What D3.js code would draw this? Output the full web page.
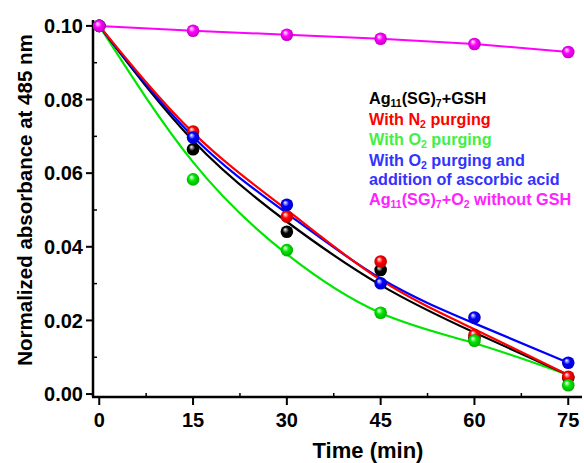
<!DOCTYPE html>
<html><head><meta charset="utf-8">
<script src="https://cdn.jsdelivr.net/npm/d3@7"></script>
<style>body{margin:0;background:#fff}svg{display:block;font-family:"Liberation Sans",Arial,sans-serif}</style>
</head><body><svg id="c" width="584" height="463"></svg>
<script>
const times = [0, 15, 30, 45, 60, 75];
const xTicks = [0, 15, 30, 45, 60, 75];
const yTicks = [0.00, 0.02, 0.04, 0.06, 0.08, 0.10];
// measured points
const blackPts = [0.100, 0.0665, 0.0441, 0.0337, 0.0153, 0.0044];
const redPts   = [0.100, 0.0713, 0.0482, 0.0360, 0.0160, 0.0047];
const greenPts = [0.100, 0.0583, 0.0391, 0.0221, 0.0145, 0.0024];
const bluePts  = [0.100, 0.0697, 0.0514, 0.0301, 0.0208, 0.0085];
const pinkPts  = [0.100, 0.0987, 0.0976, 0.0965, 0.0951, 0.0929];
// fitted curves
const blackFit = [0.100, 0.0688, 0.0468, 0.0296, 0.0167, 0.0052];
const redFit   = [0.100, 0.0710, 0.0500, 0.0310, 0.0176, 0.0052];
const blueFit  = [0.100, 0.0699, 0.0491, 0.0314, 0.0192, 0.0085];
const greenFit = [0.100, 0.0630, 0.0380, 0.0220, 0.0138, 0.0052];

const svg = d3.select("#c");
const x = d3.scaleLinear().domain([-1, 77.2]).range([93, 582]);
const y = d3.scaleLinear().domain([-0.0008, 0.1016]).range([397, 20]);

const colors = {black:"#000000", red:"#ff0000", green:"#00e600", blue:"#0000ff", pink:"#ff00ff"};
const defs = svg.append("defs");
Object.entries(colors).forEach(([k,c])=>{
  const g = defs.append("radialGradient").attr("id","g_"+k).attr("cx","50%").attr("cy","50%").attr("r","55%").attr("fx","35%").attr("fy","30%");
  g.append("stop").attr("offset","0%").attr("stop-color","#ffffff");
  g.append("stop").attr("offset","45%").attr("stop-color",c);
  g.append("stop").attr("offset","100%").attr("stop-color",d3.color(c).darker(0.9).formatHex());
});

// axes
const axG = svg.append("g");
axG.append("line").attr("x1",93).attr("x2",93).attr("y1",y.range()[1]).attr("y2",397).attr("stroke","#000").attr("stroke-width",2.5);
axG.append("line").attr("x1",92).attr("x2",582).attr("y1",397).attr("y2",397).attr("stroke","#000").attr("stroke-width",2.5);
yTicks.forEach(v=>{
  axG.append("line").attr("x1",86).attr("x2",93).attr("y1",y(v)).attr("y2",y(v)).attr("stroke","#000").attr("stroke-width",2);
  axG.append("text").attr("x",83).attr("y",y(v)).attr("dy","0.36em").attr("text-anchor","end")
    .attr("font-size",20).attr("font-weight","bold").text(d3.format(".2f")(v));
});
d3.range(0.01, 0.101, 0.02).forEach(v=>{
  axG.append("line").attr("x1",93).attr("x2",97).attr("y1",y(v)).attr("y2",y(v)).attr("stroke","#000").attr("stroke-width",1.5);
});
xTicks.forEach(v=>{
  axG.append("line").attr("x1",x(v)).attr("x2",x(v)).attr("y1",397).attr("y2",405).attr("stroke","#000").attr("stroke-width",2);
  axG.append("text").attr("x",x(v)).attr("y",427).attr("text-anchor","middle")
    .attr("font-size",20).attr("font-weight","bold").text(v);
});
d3.range(7.5, 76, 15).forEach(v=>{
  axG.append("line").attr("x1",x(v)).attr("x2",x(v)).attr("y1",397).attr("y2",393).attr("stroke","#000").attr("stroke-width",1.5);
});
svg.append("text").attr("x",368).attr("y",458).attr("text-anchor","middle").attr("font-size",22).attr("font-weight","bold").text("Time (min)");
svg.append("text").attr("transform","translate(32,200) rotate(-90)").attr("text-anchor","middle").attr("font-size",20.5).attr("font-weight","bold").text("Normalized absorbance at 485 nm");

// fitted curves
const fitLine = d3.line().x((d,i)=>x(times[i])).y(d=>y(d)).curve(d3.curveNatural);
[["green",greenFit],["black",blackFit],["blue",blueFit],["red",redFit]].forEach(([k,arr])=>{
  svg.append("path").attr("d",fitLine(arr)).attr("fill","none").attr("stroke",colors[k]).attr("stroke-width",2.2);
});
// pink straight line
const straight = d3.line().x((d,i)=>x(times[i])).y(d=>y(d));
svg.append("path").attr("d",straight(pinkPts)).attr("fill","none").attr("stroke",colors.pink).attr("stroke-width",2);

// points
[["black",blackPts],["red",redPts],["blue",bluePts],["green",greenPts],["pink",pinkPts]].forEach(([k,arr])=>{
  svg.append("g").selectAll("circle").data(arr).join("circle")
    .attr("cx",(d,i)=>x(times[i])).attr("cy",d=>y(d)).attr("r",6.3).attr("fill","url(#g_"+k+")");
});

// legend
const leg = [
  {c:"#000000", parts:[["Ag",0],["11",1],["(SG)",0],["7",1],["+GSH",0]]},
  {c:"#ff0000", parts:[["With N",0],["2",1],[" purging",0]]},
  {c:"#44ee44", parts:[["With O",0],["2",1],[" purging",0]]},
  {c:"#3333ff", parts:[["With O",0],["2",1],[" purging and",0]]},
  {c:"#3333ff", parts:[["addition of ascorbic acid",0]]},
  {c:"#ff22ff", parts:[["Ag",0],["11",1],["(SG)",0],["7",1],["+O",0],["2",1],[" without GSH",0]]}
];
const baselines = [104, 125, 145, 166, 185, 205];
leg.forEach((l,i)=>{
  const t = svg.append("text").attr("x",369).attr("y",baselines[i]).attr("font-size",16.2).attr("font-weight","bold").attr("fill",l.c);
  let prevSub = 0;
  l.parts.forEach(([s,sub])=>{
    const ts = t.append("tspan").text(s);
    if(sub){ ts.attr("font-size",10.5).attr("dy",prevSub?0:3); }
    else { ts.attr("dy",prevSub?-3:0); }
    prevSub = sub;
  });
});
</script></body></html>
